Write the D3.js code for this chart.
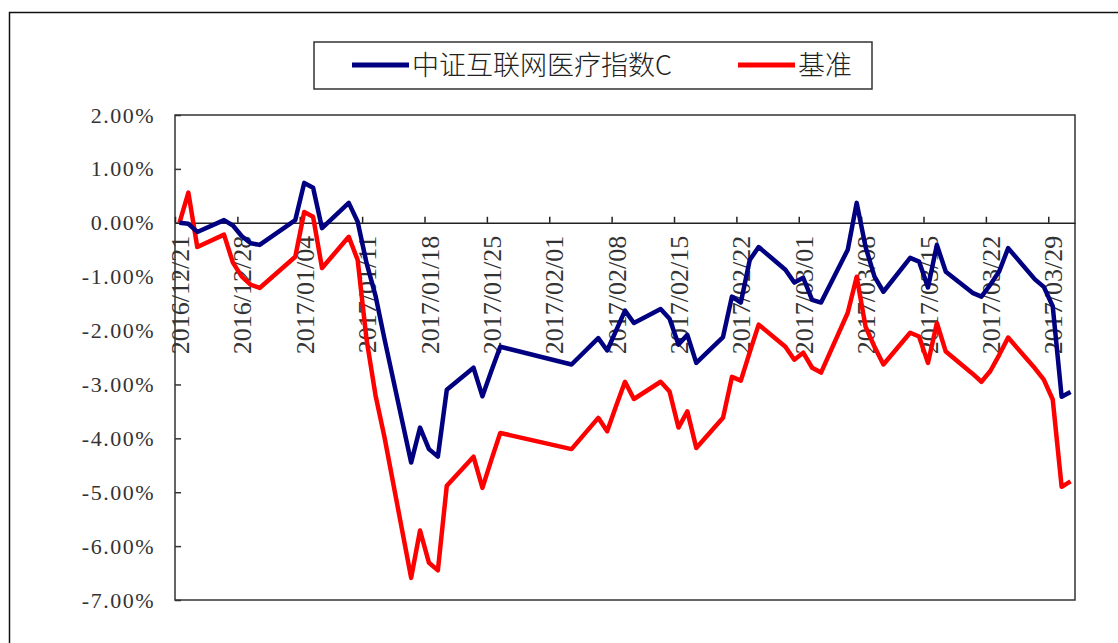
<!DOCTYPE html>
<html>
<head>
<meta charset="utf-8">
<script src="https://cdn.jsdelivr.net/npm/d3@7/dist/d3.min.js"></script>
<style>
  body { margin: 0; background: #fff; }
  svg { display: block; }
</style>
</head>
<body>
<div id="chart"></div>
<script>
// trading days, index series (blue) and benchmark (red), in %
var dates = ["2016/12/21","2016/12/22","2016/12/23","2016/12/26","2016/12/27","2016/12/28","2016/12/29","2016/12/30",
  "2017/01/03","2017/01/04","2017/01/05","2017/01/06","2017/01/09","2017/01/10","2017/01/11","2017/01/12","2017/01/13",
  "2017/01/16","2017/01/17","2017/01/18","2017/01/19","2017/01/20","2017/01/23","2017/01/24","2017/01/25","2017/01/26",
  "2017/02/03","2017/02/06","2017/02/07","2017/02/08","2017/02/09","2017/02/10","2017/02/13","2017/02/14","2017/02/15",
  "2017/02/16","2017/02/17","2017/02/20","2017/02/21","2017/02/22","2017/02/23","2017/02/24","2017/02/27","2017/02/28",
  "2017/03/01","2017/03/02","2017/03/03","2017/03/06","2017/03/07","2017/03/08","2017/03/09","2017/03/10","2017/03/13",
  "2017/03/14","2017/03/15","2017/03/16","2017/03/17","2017/03/20","2017/03/21","2017/03/22","2017/03/23","2017/03/24",
  "2017/03/27","2017/03/28","2017/03/29","2017/03/30","2017/03/31"];

var indexValues = [0.00,-0.02,-0.17,0.05,-0.05,-0.25,-0.38,-0.41,
  0.05,0.74,0.65,-0.10,0.37,0.02,-0.75,-1.35,-2.15,
  -4.45,-3.80,-4.20,-4.34,-3.10,-2.69,-3.22,-2.75,-2.30,
  -2.63,-2.14,-2.37,-2.00,-1.63,-1.86,-1.60,-1.78,-2.26,
  -2.08,-2.60,-2.12,-1.37,-1.48,-0.69,-0.45,-0.87,-1.11,
  -1.02,-1.43,-1.48,-0.50,0.37,-0.45,-1.00,-1.28,-0.65,
  -0.72,-1.20,-0.41,-0.91,-1.30,-1.37,-1.15,-0.90,-0.47,
  -1.05,-1.19,-1.55,-3.23,-3.14];

var benchValues = [0.00,0.56,-0.45,-0.22,-0.74,-1.00,-1.15,-1.21,
  -0.63,0.20,0.11,-0.84,-0.26,-0.69,-2.17,-3.20,-3.97,
  -6.59,-5.71,-6.31,-6.45,-4.88,-4.34,-4.92,-4.40,-3.90,
  -4.20,-3.62,-3.87,-3.40,-2.95,-3.27,-2.95,-3.13,-3.80,
  -3.50,-4.18,-3.62,-2.86,-2.93,-2.40,-1.89,-2.30,-2.54,
  -2.41,-2.69,-2.78,-1.67,-1.00,-1.93,-2.30,-2.63,-2.04,
  -2.11,-2.60,-1.86,-2.39,-2.80,-2.95,-2.75,-2.45,-2.13,
  -2.70,-2.91,-3.28,-4.90,-4.80];

var seriesNames = ["中证互联网医疗指数C", "基准"];
var yTicks = [2, 1, 0, -1, -2, -3, -4, -5, -6, -7];

var W = 1118, H = 643;
var serif = "'Liberation Serif', 'Times New Roman', Tinos, 'DejaVu Serif', 'Noto Serif', serif";
var parse = d3.timeParse("%Y/%m/%d");
var fmt = d3.timeFormat("%Y/%m/%d");

var svg = d3.select("#chart").append("svg")
    .attr("width", W).attr("height", H);

// outer frame
svg.append("rect")
    .attr("x", 9.5).attr("y", 12.5)
    .attr("width", 1130).attr("height", 650)
    .attr("fill", "#fff").attr("stroke", "#111").attr("stroke-width", 1.5);

var plotL = 175, plotR = 1075, plotT = 115, plotB = 600;

var x = d3.scaleTime()
    .domain([parse("2016/12/21"), parse("2017/04/01")])
    .range([plotL, plotR]);
var y = d3.scaleLinear().domain([2, -7]).range([plotT, plotB]);

var halfDay = (x(parse("2016/12/22")) - x(parse("2016/12/21"))) / 2;

// plot frame
svg.append("rect")
    .attr("x", plotL).attr("y", plotT)
    .attr("width", plotR - plotL).attr("height", plotB - plotT)
    .attr("fill", "none").attr("stroke", "#333").attr("stroke-width", 1.5);

// y axis
var yAxis = svg.append("g")
    .attr("transform", "translate(" + plotL + ",0)")
    .call(d3.axisLeft(y).tickValues(yTicks).tickSize(-6).tickPadding(20)
        .tickFormat(function(d) { return d.toFixed(2) + "%"; }));
yAxis.attr("font-family", null);
yAxis.select(".domain").remove();
yAxis.selectAll("line").attr("stroke", "#333").attr("stroke-width", 1.5);
yAxis.selectAll("text")
    .attr("font-family", serif)
    .attr("font-size", 22)
    .style("letter-spacing", "1.5px")
    .attr("fill", "#333");

// x axis on the zero line, one tick a week
var weekTicks = d3.range(0, 15).map(function(i) { return d3.timeDay.offset(parse("2016/12/21"), i * 7); });

var xAxis = svg.append("g")
    .attr("transform", "translate(0," + y(0) + ")")
    .call(d3.axisBottom(x).tickValues(weekTicks).tickSize(-6).tickSizeOuter(0).tickFormat(fmt));
xAxis.attr("font-family", null);
xAxis.select(".domain").attr("stroke", "#222").attr("stroke-width", 1.5);
xAxis.selectAll("line").attr("stroke", "#222").attr("stroke-width", 1.5);
xAxis.selectAll("text")
    .attr("transform", "translate(" + halfDay + ",13) rotate(-90)")
    .attr("x", 0).attr("y", 0).attr("dy", "0.35em")
    .style("text-anchor", "end")
    .attr("font-family", serif)
    .attr("font-size", 26)
    .attr("fill", "#333");

// lines
var pts = dates.map(function(d) { return d3.timeHour.offset(parse(d), 12); });
var line = d3.line()
    .x(function(d) { return x(d[0]); })
    .y(function(d) { return y(d[1]); });

svg.append("path")
    .datum(pts.map(function(d, i) { return [d, benchValues[i]]; }))
    .attr("d", line)
    .attr("fill", "none").attr("stroke", "#ff0000").attr("stroke-width", 4.5)
    .attr("stroke-linejoin", "round");

svg.append("path")
    .datum(pts.map(function(d, i) { return [d, indexValues[i]]; }))
    .attr("d", line)
    .attr("fill", "none").attr("stroke", "#000080").attr("stroke-width", 4.5)
    .attr("stroke-linejoin", "round");

// legend
var legend = svg.append("g");
legend.append("rect")
    .attr("x", 314).attr("y", 42).attr("width", 558).attr("height", 47)
    .attr("fill", "#fff").attr("stroke", "#333").attr("stroke-width", 1.5);

var legendItems = [
    {name: seriesNames[0], color: "#000080", x0: 352},
    {name: seriesNames[1], color: "#ff0000", x0: 738}
];
legendItems.forEach(function(it) {
    legend.append("line")
        .attr("x1", it.x0).attr("x2", it.x0 + 57)
        .attr("y1", 65).attr("y2", 65)
        .attr("stroke", it.color).attr("stroke-width", 5);
    legend.append("text")
        .attr("x", it.x0 + 60).attr("y", 66)
        .attr("dy", "0.35em")
        .style("font-family", "'Noto Sans CJK SC', sans-serif")
        .style("font-size", "27px")
        .style("font-weight", 300)
        .attr("fill", "#222")
        .text(it.name);
});
</script>
</body>
</html>
